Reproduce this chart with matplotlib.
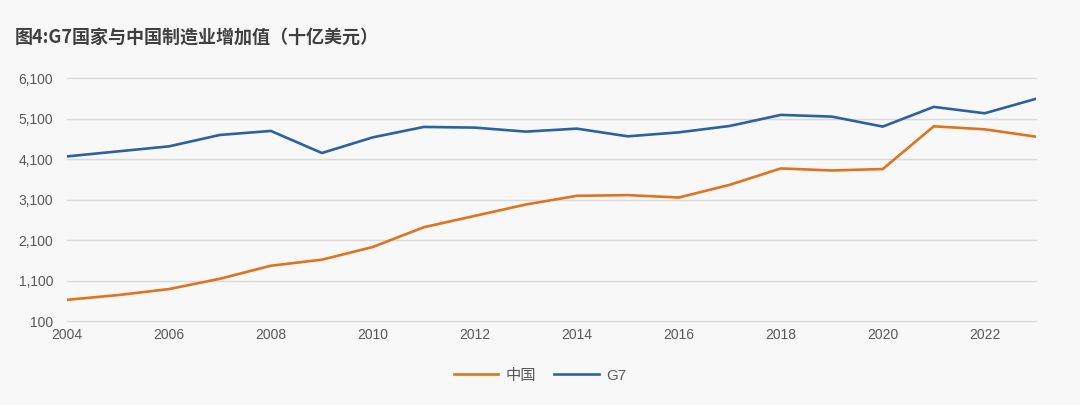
"""G7 vs China manufacturing value added, line chart."""

import matplotlib

matplotlib.use("Agg")
import matplotlib.pyplot as plt
from matplotlib.ticker import FuncFormatter

plt.rcParams["font.family"] = ["Liberation Sans", "Noto Sans CJK SC", "DejaVu Sans"]

years = list(range(2004, 2024))
china = [627, 744, 892, 1147, 1469, 1618, 1932, 2420, 2700, 2980,
         3195, 3212, 3153, 3467, 3871, 3821, 3856, 4911, 4837, 4656]
g7 = [4168, 4292, 4416, 4698, 4797, 4252, 4639, 4896, 4879, 4780,
      4854, 4664, 4762, 4920, 5193, 5151, 4904, 5391, 5233, 5589]
y_ticks = [100, 1100, 2100, 3100, 4100, 5100, 6100]
x_ticks = list(range(2004, 2023, 2))

BG = "#f8f8f8"
ORANGE = "#e0731e"
BLUE = "#2c62a0"
TEXT = "#595959"

fig = plt.figure(figsize=(10.8, 4.05), dpi=100, facecolor=BG)
ax = fig.add_axes([0.062, 0.207, 0.897, 0.600], facecolor=BG)

ax.plot(years, china, color=ORANGE, lw=1.9, label="中国")
ax.plot(years, g7, color=BLUE, lw=1.9, label="G7")

ax.set_xlim(2004, 2023)
ax.set_ylim(100, 6100)
ax.set_yticks(y_ticks)
ax.set_xticks(x_ticks)
ax.yaxis.set_major_formatter(FuncFormatter(lambda v, _: f"{int(v):,}"))
ax.grid(axis="y", color="#d9d9d9", lw=1.0, clip_on=False)
ax.set_axisbelow(True)
for s in ax.spines.values():
    s.set_visible(False)
ax.tick_params(length=0, colors=TEXT, labelsize=10)
ax.tick_params(axis="y", pad=10)
ax.tick_params(axis="x", pad=5)

fig.text(0.014, 0.908, "图4:G7国家与中国制造业增加值（十亿美元）",
         fontsize=13, fontweight="bold", color="#404040",
         family=["Noto Sans CJK SC", "DejaVu Sans"], va="center")

fig.legend(loc="center", bbox_to_anchor=(0.5, 0.072), ncol=2, frameon=False,
           fontsize=11, handlelength=2.9, handletextpad=0.5,
           columnspacing=1.2, labelcolor=TEXT)

fig.savefig("out.png", dpi=100, facecolor=BG)
